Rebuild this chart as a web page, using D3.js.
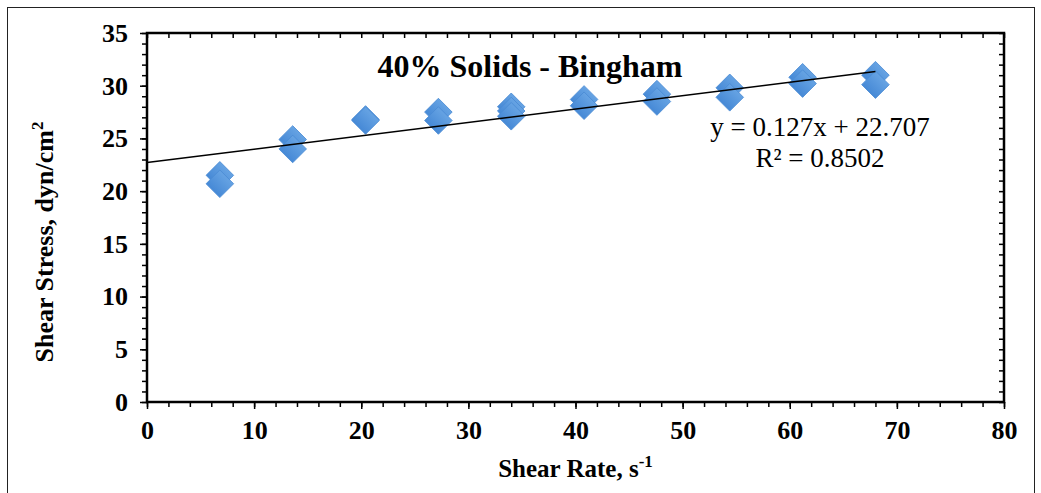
<!DOCTYPE html>
<html>
<head>
<meta charset="utf-8">
<script src="https://cdn.jsdelivr.net/npm/d3@7"></script>
<style>
  body { margin: 0; background: #fff; }
  svg { display: block; font-family: "Liberation Serif", "Times New Roman", serif; }
</style>
</head>
<body>
<div id="chart"></div>
<script>
// shear rate (s^-1) and measured shear stress (dyn/cm2), repeated readings per rate
const shearRate = [6.8, 6.8, 13.6, 13.6, 20.4, 20.4, 27.2, 27.2, 34, 34, 34, 40.8, 40.8, 47.6, 47.6, 54.4, 54.4, 61.2, 61.2, 68, 68];
const shearStress = [21.5, 20.7, 24.9, 24.0, 26.8, 26.7, 27.5, 26.7, 28.0, 27.6, 27.1, 28.7, 28.1, 29.2, 28.5, 29.8, 28.9, 30.8, 30.2, 31.0, 30.1];

const slope = 0.127;
const intercept = 22.707;
const fitRange = [0, 68];

const xTicks = [0, 10, 20, 30, 40, 50, 60, 70, 80];
const yTicks = [0, 5, 10, 15, 20, 25, 30, 35];

const width = 1041;
const height = 493;

const margin = { top: 33, right: 37, bottom: 91, left: 147 };

const svg = d3.select('#chart')
  .append('svg')
  .attr('width', width)
  .attr('height', height);

// outer frame
svg.append('rect')
  .attr('x', 7.5).attr('y', 7.5)
  .attr('width', 1027).attr('height', 500)
  .attr('fill', 'none')
  .attr('stroke', '#222')
  .attr('stroke-width', 1);

const xScale = d3.scaleLinear()
  .domain([0, 80])
  .range([margin.left, width - margin.right]);

const yScale = d3.scaleLinear()
  .domain([0, 35])
  .range([height - margin.bottom, margin.top]);

const defs = svg.append('defs');
const grad = defs.append('linearGradient')
  .attr('id', 'mk').attr('x1', 0).attr('y1', 0).attr('x2', 0).attr('y2', 1);
grad.append('stop').attr('offset', '0%').attr('stop-color', '#66a3e3');
grad.append('stop').attr('offset', '100%').attr('stop-color', '#4689d6');

// minor ticks
const minorX = d3.range(0, 81, 2);
const minorY = d3.range(0, 36, 1);

// bottom axis (ticks outside)
svg.append('g')
  .attr('transform', `translate(0, ${yScale(0)})`)
  .call(d3.axisBottom(xScale).tickValues(minorX).tickSize(5).tickFormat(''))
  .call(g => g.select('.domain').remove())
  .call(g => g.selectAll('line').attr('stroke', '#000').attr('stroke-width', 1.5));

// top axis (ticks inside)
svg.append('g')
  .attr('transform', `translate(0, ${yScale(35)})`)
  .call(d3.axisTop(xScale).tickValues(minorX).tickSize(-5).tickFormat(''))
  .call(g => g.select('.domain').remove())
  .call(g => g.selectAll('line').attr('stroke', '#000').attr('stroke-width', 1.5));

// left axis (ticks outside)
svg.append('g')
  .attr('transform', `translate(${xScale(0)}, 0)`)
  .call(d3.axisLeft(yScale).tickValues(minorY).tickSize(5).tickFormat(''))
  .call(g => g.select('.domain').remove())
  .call(g => g.selectAll('line').attr('stroke', '#000').attr('stroke-width', 1.5));

// right axis (ticks inside)
svg.append('g')
  .attr('transform', `translate(${xScale(80)}, 0)`)
  .call(d3.axisRight(yScale).tickValues(minorY).tickSize(-5).tickFormat(''))
  .call(g => g.select('.domain').remove())
  .call(g => g.selectAll('line').attr('stroke', '#000').attr('stroke-width', 1.5));

// major tick labels
const xAxis = svg.append('g')
  .attr('transform', `translate(0, ${yScale(0)})`)
  .call(d3.axisBottom(xScale).tickValues(xTicks).tickSize(7).tickPadding(12))
  .call(g => g.select('.domain').remove());
xAxis.selectAll('line').attr('stroke', '#000').attr('stroke-width', 1.5);
xAxis.selectAll('text')
  .attr('font-family', '"Liberation Serif", serif')
  .attr('font-size', 26).attr('font-weight', 'bold').attr('fill', '#000');

const yAxis = svg.append('g')
  .attr('transform', `translate(${xScale(0)}, 0)`)
  .call(d3.axisLeft(yScale).tickValues(yTicks).tickSize(7).tickPadding(12))
  .call(g => g.select('.domain').remove());
yAxis.selectAll('line').attr('stroke', '#000').attr('stroke-width', 1.5);
yAxis.selectAll('text')
  .attr('font-family', '"Liberation Serif", serif')
  .attr('font-size', 26).attr('font-weight', 'bold').attr('fill', '#000');

// plot box
svg.append('rect')
  .attr('x', xScale(0)).attr('y', yScale(35))
  .attr('width', xScale(80) - xScale(0))
  .attr('height', yScale(0) - yScale(35))
  .attr('fill', 'none')
  .attr('stroke', '#000')
  .attr('stroke-width', 2.5);

// markers
const diamond = d3.symbol().type(d3.symbolSquare).size(380);
svg.append('g')
  .selectAll('path')
  .data(shearRate.map((x, i) => ({ x, y: shearStress[i] })))
  .join('path')
  .attr('d', diamond)
  .attr('transform', d => `translate(${xScale(d.x)}, ${yScale(d.y)}) rotate(45)`)
  .attr('fill', 'url(#mk)')
  .attr('stroke', '#4a8bd4')
  .attr('stroke-width', 0.8);

// linear trendline
svg.append('line')
  .attr('x1', xScale(fitRange[0])).attr('y1', yScale(slope * fitRange[0] + intercept))
  .attr('x2', xScale(fitRange[1])).attr('y2', yScale(slope * fitRange[1] + intercept))
  .attr('stroke', '#000')
  .attr('stroke-width', 1.5);

// title
svg.append('text')
  .attr('x', 530).attr('y', 77)
  .attr('text-anchor', 'middle')
  .attr('font-size', 32).attr('font-weight', 'bold')
  .text('40% Solids - Bingham');

// equation
svg.append('text')
  .attr('x', 820).attr('y', 136)
  .attr('text-anchor', 'middle')
  .attr('font-size', 27)
  .text(`y = ${slope}x + ${intercept}`);
svg.append('text')
  .attr('x', 820).attr('y', 167)
  .attr('text-anchor', 'middle')
  .attr('font-size', 27)
  .text('R² = 0.8502');

// axis titles
const xt = svg.append('text')
  .attr('x', (xScale(0) + xScale(80)) / 2).attr('y', 477)
  .attr('text-anchor', 'middle')
  .attr('font-size', 25).attr('font-weight', 'bold')
  .text('Shear Rate, s');
xt.append('tspan').attr('dy', -10).attr('font-size', 17).text('-1');

const yt = svg.append('text')
  .attr('transform', 'translate(53, 242) rotate(-90)')
  .attr('text-anchor', 'middle')
  .attr('font-size', 26).attr('font-weight', 'bold')
  .text('Shear Stress, dyn/cm');
yt.append('tspan').attr('dy', -10).attr('font-size', 17).text('2');
</script>
</body>
</html>
